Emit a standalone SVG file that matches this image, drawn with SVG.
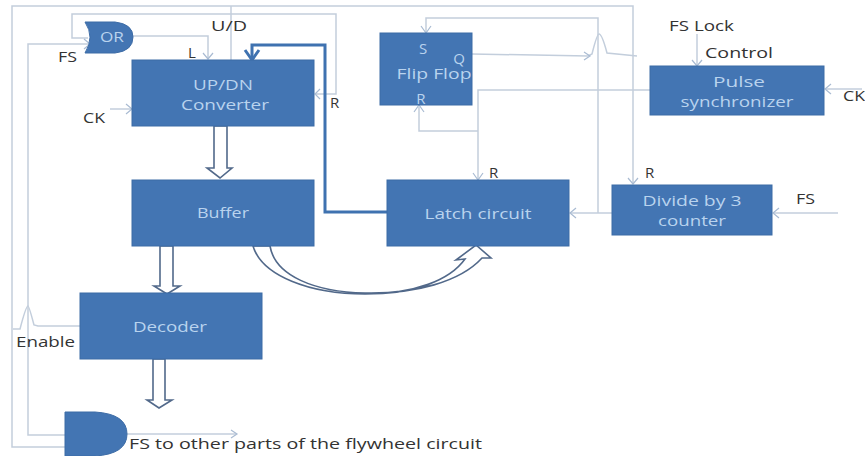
<svg xmlns="http://www.w3.org/2000/svg" width="865" height="456" viewBox="0 0 865 456">
<style>
.b{fill:#4375b3;stroke:#3d6ca6;stroke-width:1}
text{font-family:"Open Sans","Liberation Sans",sans-serif;font-size:15px}
.w{fill:#b9d3ee;text-anchor:middle}
.t{fill:#333}
.c{fill:none;stroke:#c3cedc;stroke-width:1.5}
.a{fill:none;stroke:#a9bbd2;stroke-width:1.2}
.h{fill:#fff;stroke:#52698a;stroke-width:1.6}
</style>
<rect width="865" height="456" fill="#fff"/>
<g id="connectors">
<path class="c" d="M65 447H12V6H633V183"/>
<path class="c" d="M65 435H28V44H88"/>
<path class="c" d="M88 38H72V14H336V94H316"/>
<path class="c" d="M133 36H208V58"/>
<path class="c" d="M231 6V60"/>
<path class="c" d="M110 109H131"/>
<path class="c" d="M472 54L588 56L592 54Q597 34 599 34Q602 34 607 53L637 56"/>
<path class="c" d="M650 90H478V179"/>
<path class="c" d="M478 131H419V107"/>
<path class="c" d="M612 213H571"/>
<path class="c" d="M598 213V18H426V32"/>
<path class="c" d="M838 213H774"/>
<path class="c" d="M697 34V65"/>
<path class="c" d="M862 89H826"/>
<path class="c" d="M80 326H38L34 325Q29 306 28 306Q26 306 20 329H13"/>
<path class="c" d="M127 434H236"/>
<path class="a" d="M203 53L208 59L213 53M126 104L132 109L126 114M320 89L315 94L320 99M628 178L633 184L638 178M421 26L426 33L431 26M473 173L478 180L483 173M414 112L419 105L424 112M692 60L697 66L702 60M831 84L825 89L831 94M576 208L570 213L576 218M779 208L773 213L779 218M84 39L90 44L84 49M584 52L590 56L584 60M231 430L237 434L231 438"/>
<path d="M387 212H325V45H252V58" fill="none" stroke="#3f72b0" stroke-width="3"/>
<path d="M245 50L252 60L259 50" fill="none" stroke="#3f72b0" stroke-width="3"/>
<path class="h" d="M214 126V168H207L220 178L232 168H227V126Z"/>
<path class="h" d="M160 246V286H154L167 294L180 286H173V246Z"/>
<path class="h" d="M153 359V400H147L159 408L172 400H165V359Z"/>
<path class="h" d="M253 246C262 276 310 294 365 294C415 294 450 280 465 259L456 260L476 245L491 258L482 258C460 282 415 294 365 293C315 292 275 276 270 246Z"/>
</g>
<g id="or"><path class="b" d="M85 22H115Q133 24 133 37Q133 51 115 53H85Q95 37 85 22Z"/><text class="w" x="112" y="42" textLength="24" lengthAdjust="spacingAndGlyphs">OR</text></g>
<g id="updn"><rect class="b" x="132" y="60" width="182" height="66"/><text class="w" x="223" y="90" textLength="60" lengthAdjust="spacingAndGlyphs">UP/DN</text><text class="w" x="225" y="110" textLength="88" lengthAdjust="spacingAndGlyphs">Converter</text></g>
<g id="buffer"><rect class="b" x="132" y="180" width="182" height="66"/><text class="w" x="223" y="218" textLength="52" lengthAdjust="spacingAndGlyphs">Buffer</text></g>
<g id="decoder"><rect class="b" x="80" y="293" width="182" height="66"/><text class="w" x="170" y="332" textLength="74" lengthAdjust="spacingAndGlyphs">Decoder</text></g>
<g id="latch"><rect class="b" x="387" y="180" width="182" height="66"/><text class="w" x="478" y="219" textLength="107" lengthAdjust="spacingAndGlyphs">Latch circuit</text></g>
<g id="divide"><rect class="b" x="612" y="185" width="160" height="50"/><text class="w" x="692" y="206" textLength="99" lengthAdjust="spacingAndGlyphs">Divide by 3</text><text class="w" x="692" y="226" textLength="68" lengthAdjust="spacingAndGlyphs">counter</text></g>
<g id="pulse"><rect class="b" x="650" y="66" width="174" height="49"/><text class="w" x="739" y="87" textLength="52" lengthAdjust="spacingAndGlyphs">Pulse</text><text class="w" x="737" y="107" textLength="113" lengthAdjust="spacingAndGlyphs">synchronizer</text></g>
<g id="flipflop"><rect class="b" x="380" y="33" width="92" height="72"/><text class="w" x="423" y="54">S</text><text class="w" x="459" y="64">Q</text><text class="w" x="434" y="79" textLength="75" lengthAdjust="spacingAndGlyphs">Flip Flop</text><text class="w" x="421" y="104">R</text></g>
<g id="and"><path class="b" d="M65 412H95Q127 414 127 434Q127 454 95 456H65Z"/></g>
<g id="labels">
<text class="t" x="58" y="62" textLength="19" lengthAdjust="spacingAndGlyphs">FS</text><text class="t" x="188" y="58">L</text><text class="t" x="211" y="31" textLength="36" lengthAdjust="spacingAndGlyphs">U/D</text><text class="t" x="330" y="108">R</text><text class="t" x="83" y="123" textLength="22" lengthAdjust="spacingAndGlyphs">CK</text>
<text class="t" x="669" y="31" textLength="65" lengthAdjust="spacingAndGlyphs">FS Lock</text><text class="t" x="705" y="58" textLength="68" lengthAdjust="spacingAndGlyphs">Control</text><text class="t" x="843" y="101" textLength="22" lengthAdjust="spacingAndGlyphs">CK</text><text class="t" x="489" y="178">R</text><text class="t" x="645" y="178">R</text><text class="t" x="796" y="204" textLength="19" lengthAdjust="spacingAndGlyphs">FS</text>
<text class="t" x="16" y="347" textLength="59" lengthAdjust="spacingAndGlyphs">Enable</text><text class="t" x="129" y="449" textLength="353" lengthAdjust="spacingAndGlyphs">FS to other parts of the flywheel circuit</text>
</g>
</svg>
